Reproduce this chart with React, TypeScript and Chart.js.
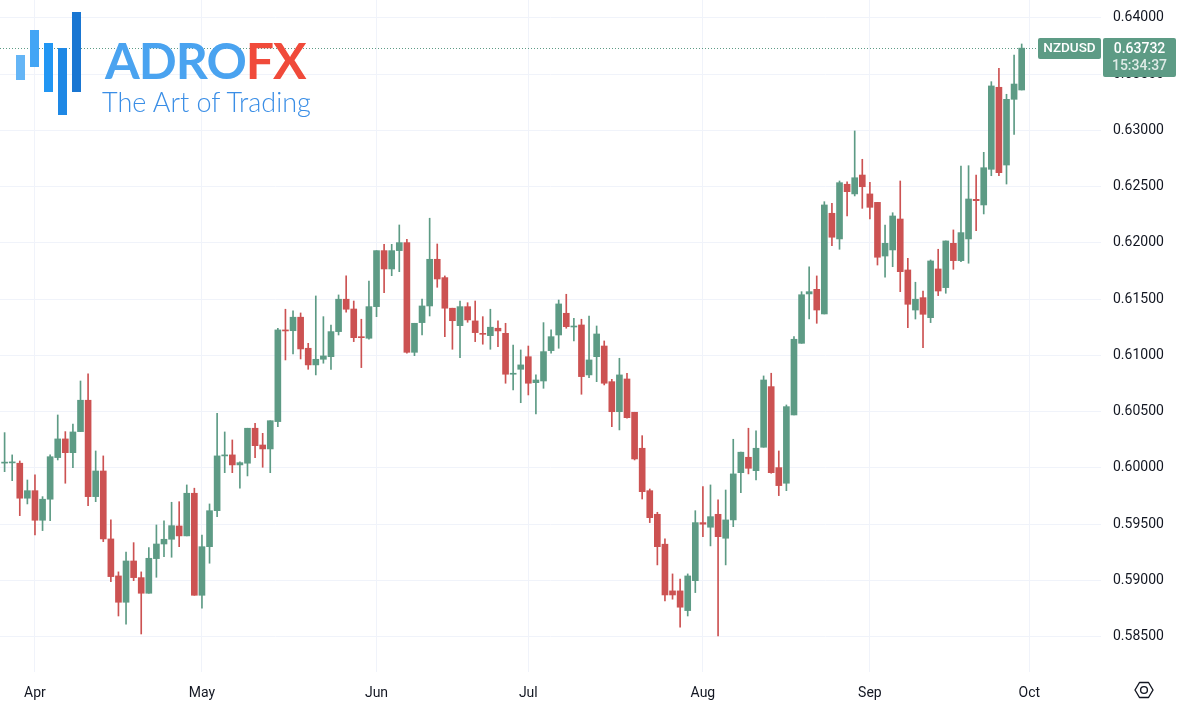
import React, { useEffect, useRef } from 'react';
import { Chart, registerables } from 'chart.js';

Chart.register(...registerables);

// ---- DATA (NZDUSD daily, 26 Mar 2024 – 30 Sep 2024) ----
const opens = [
  0.60043, 0.60045, 0.60042, 0.59731, 0.59798, 0.59535, 0.59722, 0.60092, 0.60258, 0.60136,
  0.60323, 0.60602, 0.59745, 0.59973, 0.59369, 0.59040, 0.58806, 0.59173, 0.59025, 0.58886,
  0.59194, 0.59324, 0.59366, 0.59484, 0.59396, 0.59775, 0.58868, 0.59300, 0.59620, 0.60107,
  0.60116, 0.60027, 0.60042, 0.60353, 0.60204, 0.60169, 0.60412, 0.61227, 0.61220, 0.61340,
  0.61064, 0.60916, 0.60966, 0.60989, 0.61212, 0.61500, 0.61413, 0.61162, 0.61153, 0.61434,
  0.61932, 0.61769, 0.61932, 0.62003, 0.61028, 0.61292, 0.61440, 0.61855, 0.61692, 0.61420,
  0.61265, 0.61434, 0.61307, 0.61197, 0.61176, 0.61242, 0.61197, 0.60833, 0.60877, 0.60989,
  0.60758, 0.60773, 0.61043, 0.61182, 0.61375, 0.61253, 0.61271, 0.60827, 0.60989, 0.61084,
  0.60767, 0.60500, 0.60791, 0.60495, 0.60175, 0.59798, 0.59588, 0.59322, 0.58907, 0.58907,
  0.58732, 0.58998, 0.59514, 0.59473, 0.59588, 0.59375, 0.59538, 0.59958, 0.60095, 0.59976,
  0.60184, 0.60723, 0.60003, 0.59864, 0.60471, 0.61108, 0.61547, 0.61588, 0.61369, 0.62264,
  0.62036, 0.62522, 0.62436, 0.62604, 0.62436, 0.62361, 0.61884, 0.61938, 0.62213, 0.61760,
  0.61404, 0.61514, 0.61336, 0.61769, 0.61603, 0.61997, 0.61843, 0.62036, 0.62388, 0.62338,
  0.62655, 0.63384, 0.62693, 0.63277, 0.63360,
];
const highs = [
  0.60314, 0.60116, 0.60062, 0.59893, 0.59938, 0.59745, 0.60116, 0.60471, 0.60323, 0.60391,
  0.60773, 0.60836, 0.60151, 0.60107, 0.59538, 0.59076, 0.59253, 0.59336, 0.59076, 0.59292,
  0.59493, 0.59529, 0.59695, 0.59700, 0.59849, 0.59820, 0.59404, 0.59680, 0.60486, 0.60320,
  0.60249, 0.60055, 0.60353, 0.60397, 0.60308, 0.60420, 0.61242, 0.61411, 0.61396, 0.61378,
  0.61108, 0.61529, 0.61345, 0.61271, 0.61538, 0.61707, 0.61484, 0.61322, 0.61662, 0.61932,
  0.61988, 0.61988, 0.62160, 0.62033, 0.61286, 0.61502, 0.62220, 0.61991, 0.61707, 0.61420,
  0.61484, 0.61469, 0.61484, 0.61345, 0.61411, 0.61307, 0.61286, 0.61093, 0.61049, 0.61084,
  0.60827, 0.61292, 0.61227, 0.61493, 0.61544, 0.61331, 0.61322, 0.61351, 0.61262, 0.61129,
  0.60788, 0.60975, 0.60842, 0.60495, 0.60287, 0.59813, 0.59606, 0.59369, 0.59058, 0.59011,
  0.59058, 0.59620, 0.59834, 0.59849, 0.59716, 0.59804, 0.60255, 0.60140, 0.60353, 0.60329,
  0.60818, 0.60842, 0.60151, 0.60560, 0.61167, 0.61567, 0.61789, 0.61707, 0.62367, 0.62353,
  0.62551, 0.62544, 0.62996, 0.62744, 0.62540, 0.62361, 0.62160, 0.62269, 0.62551, 0.61864,
  0.61651, 0.61573, 0.61849, 0.61944, 0.62018, 0.62116, 0.62684, 0.62687, 0.62604, 0.62806,
  0.63434, 0.63553, 0.63322, 0.63671, 0.63769,
];
const lows = [
  0.59967, 0.59887, 0.59576, 0.59680, 0.59404, 0.59443, 0.59532, 0.60071, 0.59864, 0.60003,
  0.60323, 0.59665, 0.59700, 0.59345, 0.58989, 0.58684, 0.58611, 0.58998, 0.58524, 0.58886,
  0.59028, 0.59212, 0.59206, 0.59300, 0.59396, 0.58868, 0.58753, 0.59153, 0.59567, 0.59958,
  0.59958, 0.59820, 0.59929, 0.60092, 0.60006, 0.59958, 0.60367, 0.60960, 0.61013, 0.60969,
  0.60877, 0.60827, 0.60931, 0.60877, 0.61182, 0.61384, 0.61123, 0.60892, 0.61144, 0.61345,
  0.61558, 0.61709, 0.61745, 0.61020, 0.60998, 0.61182, 0.61351, 0.61606, 0.61167, 0.61055,
  0.60980, 0.61295, 0.61123, 0.61100, 0.61055, 0.61078, 0.60753, 0.60693, 0.60580, 0.60649,
  0.60480, 0.60708, 0.61020, 0.61064, 0.61242, 0.61129, 0.60655, 0.60803, 0.60767, 0.60738,
  0.60367, 0.60338, 0.60442, 0.60071, 0.59724, 0.59514, 0.59138, 0.58818, 0.58833, 0.58584,
  0.58684, 0.58892, 0.59389, 0.59307, 0.58507, 0.59138, 0.59478, 0.59780, 0.59947, 0.59893,
  0.60184, 0.59953, 0.59754, 0.59798, 0.60471, 0.61108, 0.61324, 0.61286, 0.61369, 0.61976,
  0.61944, 0.62240, 0.62418, 0.62308, 0.62213, 0.61804, 0.61695, 0.61789, 0.61567, 0.61247,
  0.61324, 0.61069, 0.61292, 0.61532, 0.61553, 0.61766, 0.61834, 0.61820, 0.62109, 0.62258,
  0.62598, 0.62598, 0.62524, 0.62966, 0.63360,
];
const closes = [
  0.60050, 0.60050, 0.59731, 0.59798, 0.59535, 0.59722, 0.60100, 0.60258, 0.60136, 0.60320,
  0.60602, 0.59745, 0.59973, 0.59369, 0.59034, 0.58806, 0.59173, 0.59025, 0.58886, 0.59197,
  0.59324, 0.59366, 0.59487, 0.59396, 0.59775, 0.58868, 0.59300, 0.59620, 0.60107, 0.60116,
  0.60027, 0.60047, 0.60353, 0.60198, 0.60169, 0.60420, 0.61227, 0.61218, 0.61340, 0.61058,
  0.60916, 0.60966, 0.60996, 0.61212, 0.61500, 0.61411, 0.61158, 0.61158, 0.61434, 0.61932,
  0.61769, 0.61932, 0.62003, 0.61028, 0.61286, 0.61440, 0.61855, 0.61680, 0.61420, 0.61309,
  0.61434, 0.61316, 0.61203, 0.61188, 0.61251, 0.61218, 0.60833, 0.60836, 0.60916, 0.60753,
  0.60782, 0.61034, 0.61167, 0.61458, 0.61256, 0.61255, 0.60812, 0.60960, 0.61191, 0.60753,
  0.60500, 0.60827, 0.60447, 0.60080, 0.59789, 0.59558, 0.59300, 0.58871, 0.58871, 0.58762,
  0.59040, 0.59514, 0.59500, 0.59567, 0.59389, 0.59538, 0.59947, 0.60140, 0.59997, 0.60175,
  0.60782, 0.59958, 0.59843, 0.60545, 0.61144, 0.61540, 0.61567, 0.61404, 0.62338, 0.62051,
  0.62536, 0.62456, 0.62580, 0.62500, 0.62317, 0.61873, 0.61997, 0.62240, 0.61745, 0.61455,
  0.61500, 0.61366, 0.61840, 0.61573, 0.62018, 0.61843, 0.62092, 0.62391, 0.62376, 0.62669,
  0.63396, 0.62625, 0.63277, 0.63413, 0.63732,
];

const monthLabels = ['Apr', 'May', 'Jun', 'Jul', 'Aug', 'Sep', 'Oct'];
const monthStartIndex = [4, 26, 49, 69, 92, 114, 135];
const priceTicks = [0.585, 0.59, 0.595, 0.6, 0.605, 0.61, 0.615, 0.62, 0.625, 0.63, 0.635, 0.64];
const symbolName = 'NZDUSD';
const countdown = '15:34:37';

const X_MIN = -0.606;
const X_MAX = 144.45;
const Y_MIN = 0.58186;
const Y_MAX = 0.6416;

const UP = '#5d9b85';
const DOWN = '#cc5252';
const GRID = '#f0f3fa';
const TEXT = '#131722';
const FONT = 'Roboto, "Noto Sans", sans-serif';

const lastPricePlugin = {
  id: 'lastPrice',
  beforeDatasetsDraw(chart: any) {
    const { ctx, chartArea, scales } = chart;
    const last = closes[closes.length - 1];
    const py = Math.round(scales.y.getPixelForValue(last)) + 0.5;
    ctx.save();
    ctx.strokeStyle = UP;
    ctx.lineWidth = 1;
    ctx.setLineDash([1, 2]);
    ctx.beginPath();
    ctx.moveTo(chartArea.left, py);
    ctx.lineTo(chartArea.right, py);
    ctx.stroke();
    ctx.restore();
  },
  afterDraw(chart: any) {
    const { ctx, chartArea, scales, width } = chart;
    const last = closes[closes.length - 1];
    const py = scales.y.getPixelForValue(last);
    const top = Math.round(py - 10.5);
    ctx.save();
    ctx.fillStyle = UP;
    const sx = chartArea.right - 63;
    ctx.beginPath();
    ctx.roundRect(sx, top, 63, 21, 2);
    ctx.fill();
    const vx = chartArea.right + 2;
    ctx.beginPath();
    ctx.roundRect(vx, top, width - 2 - vx, 39, 2);
    ctx.fill();
    ctx.textBaseline = 'middle';
    ctx.textAlign = 'center';
    ctx.fillStyle = '#ffffff';
    ctx.font = `500 13.5px ${FONT}`;
    ctx.fillText(symbolName, sx + 31.5, top + 11);
    ctx.font = `500 14px ${FONT}`;
    ctx.fillText(last.toFixed(5), vx + (width - 2 - vx) / 2, top + 11);
    ctx.fillStyle = 'rgba(255,255,255,0.8)';
    ctx.fillText(countdown, vx + (width - 2 - vx) / 2, top + 28);
    ctx.restore();
  },
};

function Logo() {
  const bars = [
    { l: 16, t: 55, h: 25, c: '#64b5f6' },
    { l: 30, t: 30, h: 37, c: '#42a5f5' },
    { l: 44, t: 43, h: 49, c: '#2196f3' },
    { l: 58, t: 48, h: 67, c: '#1e88e5' },
    { l: 72, t: 12, h: 80, c: '#1976d2' },
  ];
  return (
    <div style={{ position: 'absolute', left: 0, top: 0, width: 330, height: 125, pointerEvents: 'none' }}>
      {bars.map((b, i) => (
        <div key={i} style={{ position: 'absolute', left: b.l, top: b.t, width: 9, height: b.h, background: b.c }} />
      ))}
      <div
        style={{
          position: 'absolute', left: 105, top: 35, fontFamily: 'Lato, sans-serif', fontWeight: 700,
          fontSize: 50, lineHeight: '50px', letterSpacing: -1, whiteSpace: 'nowrap',
        }}
      >
        <span style={{ color: '#4aa3f0' }}>ADRO</span>
        <span style={{ color: '#f04a3a' }}>FX</span>
      </div>
      <div
        style={{
          position: 'absolute', left: 102, top: 88, fontFamily: 'Lato, sans-serif', fontWeight: 300,
          fontSize: 27, lineHeight: '27px', color: '#3a8ee6', whiteSpace: 'nowrap',
        }}
      >
        The Art of Trading
      </div>
    </div>
  );
}

export default function App() {
  const canvasRef = useRef<HTMLCanvasElement | null>(null);

  useEffect(() => {
    const canvas = canvasRef.current;
    if (!canvas) return;
    const idx = opens.map((_, i) => i);
    const colors = idx.map((i) => (closes[i] >= opens[i] ? UP : DOWN));

    const chart = new Chart(canvas, {
      type: 'bar',
      data: {
        datasets: [
          {
            label: 'wick',
            data: idx.map((i) => ({ x: i, y: [lows[i], highs[i]] })) as any,
            backgroundColor: colors,
            barThickness: 1,
            grouped: false,
            order: 2,
          },
          {
            label: 'body',
            data: idx.map((i) => ({ x: i, y: [opens[i], closes[i]] })) as any,
            backgroundColor: colors,
            barThickness: 6,
            minBarLength: 1,
            grouped: false,
            order: 1,
          },
        ],
      },
      options: {
        animation: false,
        responsive: false,
        maintainAspectRatio: false,
        layout: { padding: 0 },
        plugins: { legend: { display: false }, tooltip: { enabled: false } },
        scales: {
          x: {
            type: 'linear',
            min: X_MIN,
            max: X_MAX,
            offset: false,
            afterBuildTicks: (s: any) => {
              s.ticks = monthStartIndex.map((v) => ({ value: v }));
            },
            ticks: {
              autoSkip: false,
              maxRotation: 0,
              padding: 13,
              color: TEXT,
              font: { family: FONT, size: 14 },
              callback: (_v: any, i: number) => monthLabels[i],
            },
            grid: { color: GRID, drawTicks: false, offset: false },
            border: { display: false },
            afterFit: (s: any) => {
              s.height = 34;
              s.paddingLeft = 0;
              s.paddingRight = 0;
            },
          },
          y: {
            type: 'linear',
            position: 'right',
            min: Y_MIN,
            max: Y_MAX,
            afterBuildTicks: (s: any) => {
              s.ticks = priceTicks.map((v) => ({ value: v }));
            },
            ticks: {
              autoSkip: false,
              padding: 12,
              color: TEXT,
              font: { family: FONT, size: 14 },
              callback: (v: any) => Number(v).toFixed(5),
            },
            grid: { color: GRID, drawTicks: false, offset: false },
            border: { display: false },
            afterFit: (s: any) => {
              s.width = 77;
              s.paddingTop = 0;
              s.paddingBottom = 0;
            },
          },
        },
      } as any,
      plugins: [lastPricePlugin],
    });
    return () => chart.destroy();
  }, []);

  return (
    <div style={{ position: 'absolute', left: 0, top: 0, width: 1178, height: 706, background: '#fff', overflow: 'hidden' }}>
      <canvas ref={canvasRef} width={1178} height={706} style={{ display: 'block', width: 1178, height: 706 }} />
      <Logo />
      <svg width={22} height={20} style={{ position: 'absolute', left: 1133, top: 680 }} viewBox="0 0 22 20">
        <polygon points="2,10 6.5,2.5 15.5,2.5 20,10 15.5,17.5 6.5,17.5" fill="none" stroke={TEXT} strokeWidth={1.4} strokeLinejoin="round" />
        <circle cx={11} cy={10} r={3.4} fill="none" stroke={TEXT} strokeWidth={1.4} />
      </svg>
    </div>
  );
}
